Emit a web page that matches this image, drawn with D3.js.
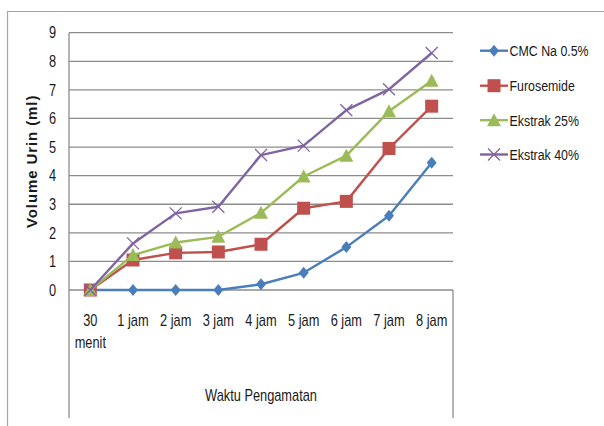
<!DOCTYPE html>
<html><head><meta charset="utf-8">
<script src="https://cdn.jsdelivr.net/npm/d3@7"></script>
<style>
html,body{margin:0;padding:0;background:#fff;}
svg{display:block;}
text{font-family:"Liberation Sans",Arial,sans-serif;fill:#1a1a1a;}
</style></head>
<body>
<script>
const categories = ["30 menit","1 jam","2 jam","3 jam","4 jam","5 jam","6 jam","7 jam","8 jam"];
const seriesNames = ["CMC Na 0.5%","Furosemide","Ekstrak 25%","Ekstrak 40%"];
const cmcNa = [0,0,0,0,0.2,0.6,1.5,2.6,4.45];
const furosemide = [0,1.05,1.3,1.33,1.6,2.86,3.1,4.95,6.43];
const ekstrak25 = [0,1.22,1.66,1.86,2.7,3.97,4.7,6.25,7.32];
const ekstrak40 = [0,1.63,2.68,2.91,4.72,5.05,6.29,7.02,8.29];
const yTicks = [0,1,2,3,4,5,6,7,8,9];
const colors = ["#4a7ebb","#c0504d","#9bbb59","#8064a2"];
const markers = ["diamond","square","triangle","x"];
const allSeries = [cmcNa, furosemide, ekstrak25, ekstrak40];

const W = 604, H = 426;
const SX = 0.8; // horizontal condensing to mimic Calibri
const svg = d3.select("body").append("svg").attr("width", W).attr("height", H);

function ctext(parent, tx, ty, str, size, anchor) {
  return parent.append("text")
    .attr("transform", `translate(${tx},${ty}) scale(${SX},1)`)
    .attr("text-anchor", anchor || "start").attr("dy","0.36em")
    .style("font-size", size + "px").text(str);
}

// outer chart border (top & left visible)
svg.append("path").attr("d","M7.5,426 V11.5 H604").attr("fill","none").attr("stroke","#a6a6a6").attr("stroke-width",1.2);

const plot = {l:69, r:453, t:32.7, b:290};
const x = d3.scaleBand().domain(categories).range([plot.l, plot.r]);
const y = d3.scaleLinear().domain([0,9]).range([plot.b, plot.t]);

// gridlines
svg.append("g").selectAll("line").data(yTicks).join("line")
  .attr("x1", plot.l).attr("x2", plot.r)
  .attr("y1", d => y(d)).attr("y2", d => y(d))
  .attr("stroke","#8c8c8c").attr("stroke-width",1.3);

// vertical axis lines
svg.append("line").attr("x1",plot.l).attr("x2",plot.l).attr("y1",plot.t).attr("y2",418).attr("stroke","#8c8c8c").attr("stroke-width",1.3);
svg.append("line").attr("x1",plot.r).attr("x2",plot.r).attr("y1",plot.b).attr("y2",418).attr("stroke","#8c8c8c").attr("stroke-width",1.3);

// y tick labels
const yl = svg.append("g");
yTicks.forEach(d => ctext(yl, 56, y(d), d, 16, "end"));

// x tick labels
const xl = svg.append("g");
categories.forEach(c => {
  const cx = x(c) + x.bandwidth()/2;
  const parts = c === "30 menit" ? ["30","menit"] : [c];
  parts.forEach((p,i) => ctext(xl, cx, 320 + i*22.5, p, 16, "middle"));
});

// axis titles
ctext(svg, (plot.l+plot.r)/2, 395, "Waktu Pengamatan", 16, "middle");
svg.append("text").attr("transform", `translate(37,${(plot.t+plot.b)/2}) rotate(-90)`)
  .attr("text-anchor","middle").style("font-size","15px").style("font-weight","bold")
  .style("letter-spacing","0.9px")
  .text("Volume Urin (ml)");

function drawMarker(g, type, cx, cy, color) {
  if (type === "diamond") {
    g.append("path").attr("d", `M${cx},${cy-6} L${cx+5},${cy} L${cx},${cy+6} L${cx-5},${cy} Z`).attr("fill", color);
  } else if (type === "square") {
    g.append("rect").attr("x", cx-6.5).attr("y", cy-6.5).attr("width",13).attr("height",13).attr("fill", color);
  } else if (type === "triangle") {
    g.append("path").attr("d", `M${cx},${cy-7} L${cx+7},${cy+6} L${cx-7},${cy+6} Z`).attr("fill", color);
  } else {
    g.append("path").attr("d", `M${cx-6},${cy-6} L${cx+6},${cy+6} M${cx+6},${cy-6} L${cx-6},${cy+6}`)
      .attr("stroke", color).attr("stroke-width",1.3).attr("fill","none");
  }
}

const line = d3.line().x((d,i) => x(categories[i]) + x.bandwidth()/2).y(d => y(d));
allSeries.forEach((s, k) => {
  const g = svg.append("g");
  g.append("path").datum(s).attr("d", line).attr("fill","none")
    .attr("stroke", colors[k]).attr("stroke-width", 2.4).attr("stroke-linejoin","round");
  s.forEach((v,i) => drawMarker(g, markers[k], x(categories[i]) + x.bandwidth()/2, y(v), colors[k]));
});

// legend
const legY = [50.7, 85.7, 120.2, 154.5];
seriesNames.forEach((n, k) => {
  const g = svg.append("g");
  g.append("line").attr("x1",480).attr("x2",508).attr("y1",legY[k]).attr("y2",legY[k])
    .attr("stroke", colors[k]).attr("stroke-width",2.4);
  drawMarker(g, markers[k], 494, legY[k], colors[k]);
  ctext(g, 509.5, legY[k], n, 15.5, "start");
});
</script>
</body></html>
